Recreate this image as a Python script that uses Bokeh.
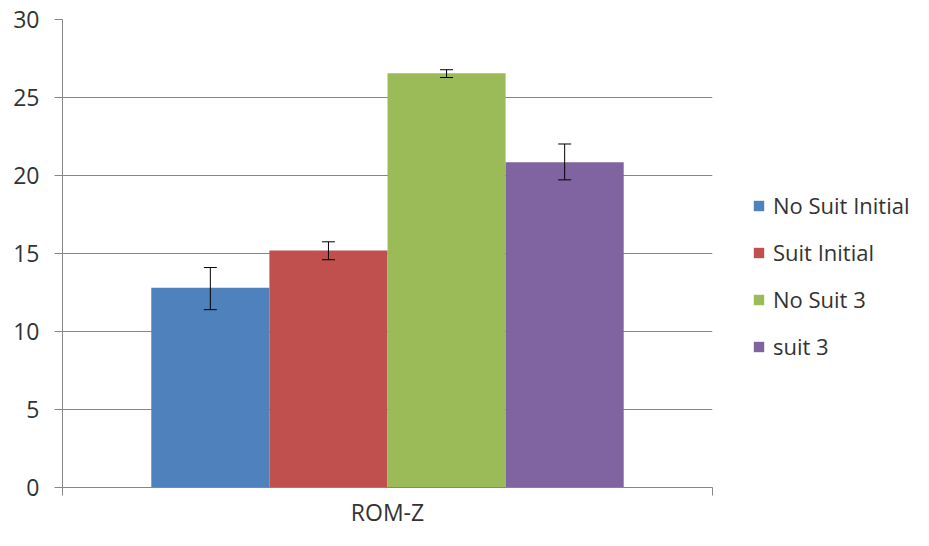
from bokeh.plotting import figure
from bokeh.layouts import row
from bokeh.models import ColumnDataSource, Range1d, FixedTicker, Whisker, TeeHead, Legend, LegendItem
from bokeh.embed import file_html
from bokeh.resources import INLINE

group_label = "ROM-Z"
series = ["No Suit Initial", "Suit Initial", "No Suit 3", "suit 3"]
values = [12.8, 15.2, 26.55, 20.85]
err_low = [11.4, 14.6, 26.28, 19.72]
err_high = [14.1, 15.75, 26.78, 22.02]
colors = ["#4F81BD", "#C0504D", "#9BBB59", "#8064A2"]
y_ticks = [0, 5, 10, 15, 20, 25, 30]

FONT = "Open Sans"
FS = "23px"
GRAY = "#868686"
TXT = "#333333"

bar_w = 0.1817
n = len(series)
xs = [0.5 + (i - (n - 1) / 2) * bar_w for i in range(n)]

p = figure(width=714, height=530, output_backend="svg", toolbar_location=None,
           x_range=Range1d(0, 1), y_range=Range1d(0, 30),
           min_border_left=62, min_border_right=2, min_border_top=19, min_border_bottom=34)
p.outline_line_color = None
p.background_fill_color = "white"
p.border_fill_color = "white"

# legend panel figure
p2 = figure(width=199, height=530, output_backend="svg", toolbar_location=None,
            x_range=Range1d(0, 1), y_range=Range1d(0, 1),
            min_border_left=0, min_border_right=0, min_border_top=0, min_border_bottom=0,
            x_axis_location=None, y_axis_location=None)
p2.outline_line_color = None
p2.grid.visible = False
p2.background_fill_color = "white"
p2.border_fill_color = "white"

items = []
for i in range(n):
    src = ColumnDataSource(dict(x=[xs[i]], top=[values[i]], lo=[err_low[i]], hi=[err_high[i]]))
    p.vbar(x="x", top="top", bottom=0, width=bar_w, source=src,
           fill_color=colors[i], line_color=None)
    w = Whisker(base="x", lower="lo", upper="hi", source=src, line_color="black", line_width=1,
                level="overlay",
                upper_head=TeeHead(size=13, line_color="black", line_width=1),
                lower_head=TeeHead(size=13, line_color="black", line_width=1))
    p.add_layout(w)
    r2 = p2.vbar(x="x", top="top", bottom=0, width=bar_w, source=src,
                 fill_color=colors[i], line_color=None, visible=False)
    items.append(LegendItem(label=series[i], renderers=[r2]))

# y axis
p.yaxis.ticker = FixedTicker(ticks=y_ticks)
p.yaxis.axis_line_color = GRAY
p.yaxis.major_tick_line_color = GRAY
p.yaxis.major_tick_in = 0
p.yaxis.major_tick_out = 8
p.yaxis.minor_tick_line_color = None
p.yaxis.major_label_standoff = 15
p.yaxis.major_label_text_font = FONT
p.yaxis.major_label_text_font_size = FS
p.yaxis.major_label_text_color = TXT

# x axis
p.xaxis.ticker = FixedTicker(ticks=[0.5], minor_ticks=[0, 1])
p.xaxis.major_label_overrides = {0.5: group_label}
p.xaxis.axis_line_color = GRAY
p.xaxis.major_tick_line_color = None
p.xaxis.major_tick_in = 0
p.xaxis.major_tick_out = 0
p.xaxis.minor_tick_line_color = GRAY
p.xaxis.minor_tick_in = 0
p.xaxis.minor_tick_out = 8
p.xaxis.major_label_standoff = 0
p.xaxis.major_label_text_font = FONT
p.xaxis.major_label_text_font_size = FS
p.xaxis.major_label_text_color = TXT

p.xgrid.grid_line_color = None
p.ygrid.grid_line_color = GRAY
p.ygrid.grid_line_width = 1

legend = Legend(items=items, location=(38, 126), orientation="vertical")
legend.border_line_color = None
legend.background_fill_alpha = 0
legend.inactive_fill_alpha = 0
legend.padding = 0
legend.margin = 0
legend.glyph_width = 13
legend.glyph_height = 13
legend.label_height = 30
legend.spacing = 17
legend.label_standoff = 8
legend.label_text_font = FONT
legend.label_text_font_size = "22px"
legend.label_text_color = TXT
legend.label_text_baseline = "middle"
p2.add_layout(legend, "center")

layout = row(p, p2, spacing=0)
open("out.html", "w").write(file_html(layout, INLINE))
